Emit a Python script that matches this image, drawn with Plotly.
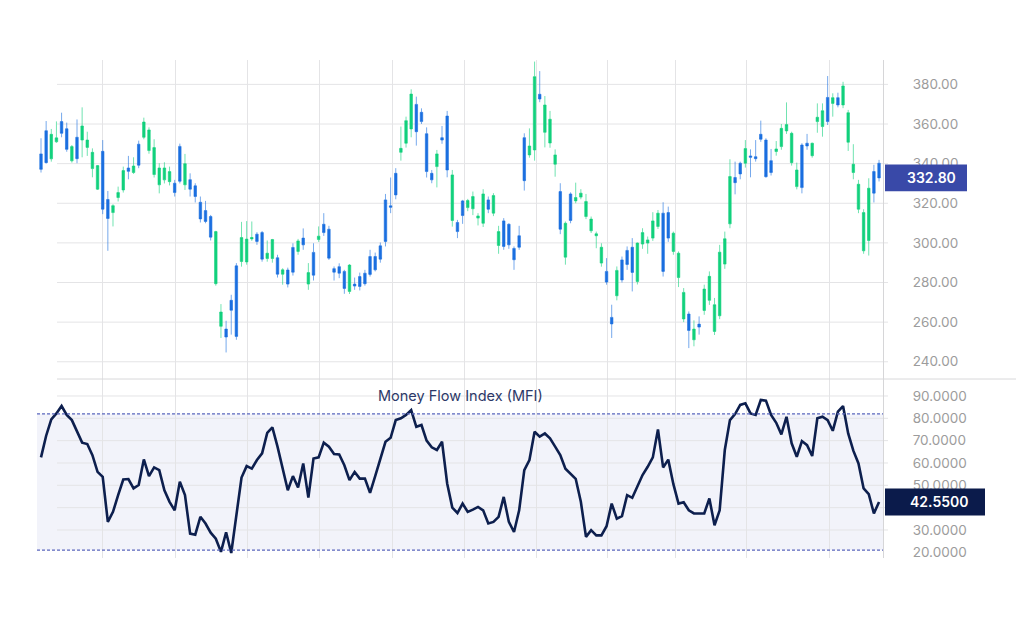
import plotly.graph_objects as go

# ---------------- data ----------------
bar_index = list(range(164))

open_ = [344.9, 356.6, 342.4, 351.0, 361.2, 357.6, 341.4, 353.3, 351.9, 348.2,
         337.5, 327.1, 346.2, 321.9, 315.3, 322.9, 326.7, 337.8, 335.5, 349.8,
         353.3, 346.6, 334.5, 329.3, 331.8, 330.9, 330.1, 348.7, 329.3, 331.9,
         328.8, 320.5, 316.3, 313.3, 279.4, 257.9, 256.5, 271.0, 288.4, 290.6,
         290.4, 302.0, 304.4, 305.2, 292.1, 292.1, 292.5, 284.2, 286.3, 297.7,
         295.7, 302.4, 279.2, 295.2, 301.7, 309.4, 306.9, 287.0, 288.0, 285.6,
         275.5, 279.2, 283.0, 284.7, 293.1, 293.1, 298.5, 321.7, 318.7, 335.1,
         345.7, 350.3, 357.5, 369.9, 365.9, 355.1, 335.1, 338.5, 353.1, 364.0,
         311.3, 310.3, 321.2, 317.8, 317.2, 312.5, 309.9, 321.7, 315.0, 298.7,
         311.1, 309.4, 297.2, 303.6, 353.1, 344.4, 346.9, 375.0, 355.8, 350.4,
         339.7, 325.9, 292.8, 324.7, 321.2, 323.1, 313.3, 306.1, 303.6, 289.8,
         285.6, 262.4, 273.3, 291.4, 296.2, 297.8, 280.5, 299.4, 299.9, 302.4,
         308.3, 315.0, 315.3, 295.7, 282.5, 261.6, 264.1, 251.1, 259.0, 265.9,
         271.0, 255.3, 263.2, 289.3, 309.6, 333.0, 340.2, 340.2, 343.9, 343.5,
         354.8, 351.9, 341.5, 346.1, 348.6, 356.5, 340.5, 328.4, 349.4, 350.3,
         344.0, 361.2, 358.7, 373.4, 370.4, 373.3, 369.6, 350.8, 335.5, 317.0,
         296.0, 301.2, 336.0, 340.2]

high = [352.8, 361.5, 357.5, 361.3, 365.7, 360.7, 349.4, 362.3, 368.4, 356.1,
        347.7, 339.3, 351.9, 326.2, 319.5, 328.4, 338.5, 343.9, 343.2, 351.6,
        363.2, 358.3, 352.3, 340.2, 340.7, 338.5, 331.8, 350.1, 344.9, 335.1,
        330.1, 323.4, 321.2, 314.1, 306.1, 269.1, 260.7, 273.8, 289.8, 310.6,
        311.0, 310.8, 305.4, 306.0, 301.2, 302.0, 294.0, 287.2, 287.5, 299.8,
        302.0, 307.3, 289.8, 299.8, 308.3, 315.0, 308.6, 288.1, 289.7, 286.4,
        289.3, 282.5, 285.0, 286.4, 296.5, 295.1, 300.2, 324.7, 333.0, 337.7,
        358.7, 363.7, 377.5, 373.8, 367.9, 358.3, 336.8, 346.9, 359.0, 366.6,
        336.8, 311.6, 321.7, 322.2, 325.9, 315.0, 327.1, 323.4, 325.1, 308.6,
        312.5, 309.9, 298.2, 308.6, 355.3, 357.8, 391.5, 386.7, 374.1, 366.6,
        347.2, 330.1, 310.8, 325.5, 330.4, 327.1, 324.7, 313.3, 305.7, 299.8,
        292.3, 268.8, 288.1, 293.1, 298.2, 302.4, 300.2, 307.4, 303.2, 315.5,
        316.6, 320.5, 318.3, 305.7, 295.7, 277.2, 265.4, 260.9, 262.9, 278.9,
        285.6, 272.2, 299.0, 305.7, 342.2, 341.0, 341.0, 351.9, 347.2, 351.9,
        361.7, 352.8, 347.4, 351.4, 360.0, 370.9, 356.1, 340.5, 350.3, 355.0,
        350.6, 370.4, 370.4, 384.2, 375.5, 375.8, 381.3, 367.1, 349.8, 331.8,
        317.0, 332.6, 339.4, 341.9]

low = [335.5, 340.0, 341.0, 350.5, 353.3, 346.0, 340.5, 340.2, 343.2, 343.9,
       333.1, 326.7, 314.5, 296.0, 308.3, 320.9, 325.4, 332.1, 334.8, 337.7,
       352.3, 345.0, 333.0, 325.0, 330.0, 329.0, 323.4, 330.0, 326.7, 323.4,
       320.4, 310.3, 309.9, 301.2, 278.4, 252.0, 244.7, 253.7, 251.1, 288.0,
       289.0, 301.0, 299.0, 290.5, 290.5, 290.0, 282.5, 278.9, 277.5, 283.5,
       294.0, 296.5, 276.3, 281.0, 300.5, 303.5, 291.4, 281.0, 282.2, 274.3,
       274.2, 276.3, 276.0, 278.4, 283.0, 285.6, 290.0, 298.2, 315.0, 322.0,
       341.5, 348.1, 353.3, 349.1, 360.0, 333.0, 330.1, 328.0, 350.0, 333.1,
       308.2, 302.4, 309.6, 316.0, 314.0, 308.8, 308.0, 315.0, 313.5, 294.5,
       296.5, 297.0, 286.4, 296.5, 326.4, 343.0, 341.5, 371.0, 348.2, 348.0,
       333.4, 304.4, 289.0, 309.9, 320.0, 322.0, 312.0, 305.0, 297.3, 288.0,
       278.9, 252.0, 271.0, 280.0, 286.4, 275.5, 279.0, 297.0, 294.5, 301.0,
       307.0, 283.0, 300.5, 294.0, 277.7, 260.0, 246.9, 247.8, 253.7, 263.7,
       268.7, 253.5, 261.5, 286.9, 307.4, 324.5, 332.1, 338.0, 333.1, 341.0,
       351.0, 332.9, 334.0, 344.0, 347.0, 355.0, 339.0, 327.0, 325.0, 347.0,
       343.0, 355.6, 353.6, 359.5, 363.7, 368.4, 368.0, 346.4, 332.1, 315.0,
       294.5, 293.6, 320.4, 331.0]

close = [337.1, 340.5, 354.8, 353.0, 355.3, 347.2, 348.6, 342.5, 359.0, 351.9,
         345.7, 339.0, 317.0, 312.3, 318.8, 325.4, 336.5, 336.1, 338.8, 339.2,
         361.0, 357.0, 348.1, 337.8, 337.8, 336.0, 325.4, 331.1, 340.0, 327.1,
         323.4, 312.1, 310.8, 302.9, 305.7, 265.1, 252.5, 266.0, 252.8, 302.7,
         301.9, 302.7, 300.7, 291.8, 294.8, 301.7, 284.2, 286.4, 279.2, 285.2,
         301.0, 299.0, 285.0, 283.7, 303.4, 305.2, 292.3, 285.2, 284.7, 277.0,
         288.8, 278.2, 278.0, 279.4, 284.1, 286.4, 291.8, 300.7, 318.0, 324.2,
         347.7, 361.7, 375.1, 356.1, 361.2, 336.0, 331.8, 344.9, 351.9, 336.8,
         334.3, 305.7, 313.8, 321.4, 323.4, 313.6, 324.7, 317.0, 323.9, 305.7,
         298.2, 299.0, 291.5, 297.8, 331.4, 348.9, 383.9, 372.6, 369.6, 362.4,
         344.4, 306.9, 309.9, 311.3, 322.9, 325.1, 320.9, 312.0, 304.6, 297.8,
         280.2, 259.1, 286.1, 281.3, 289.1, 285.1, 299.9, 305.2, 301.5, 311.1,
         315.0, 285.6, 302.4, 304.9, 294.8, 275.0, 255.8, 256.5, 257.5, 276.7,
         283.1, 268.8, 295.3, 302.1, 333.5, 330.4, 334.8, 347.6, 343.2, 342.5,
         352.3, 333.4, 335.5, 347.4, 357.8, 359.7, 355.3, 336.8, 327.9, 348.9,
         350.3, 363.4, 366.7, 361.2, 373.3, 369.6, 379.2, 365.7, 339.7, 329.6,
         315.3, 327.6, 325.1, 332.8]

mfi = [62.5, 72.2, 79.5, 82.2, 85.5, 81.5, 79.2, 74.3, 69.1, 68.5,
       63.5, 56.0, 53.8, 33.6, 38.1, 45.6, 52.6, 52.8, 48.6, 50.1,
       61.6, 54.1, 58.0, 56.8, 47.8, 42.6, 38.8, 51.6, 45.6, 28.4,
       27.9, 35.9, 32.9, 28.8, 26.1, 20.2, 29.0, 19.7, 35.9, 53.5,
       58.6, 57.5, 61.3, 64.3, 73.5, 75.9, 67.3, 56.8, 47.8, 54.1,
       49.0, 59.8, 44.5, 62.0, 62.5, 69.1, 67.3, 64.0, 63.8, 59.0,
       52.3, 56.0, 53.0, 53.0, 46.6, 54.1, 61.3, 69.5, 71.3, 79.2,
       80.0, 81.5, 83.7, 76.2, 77.0, 70.0, 67.0, 65.8, 69.5, 50.8,
       40.0, 37.6, 41.8, 38.1, 39.1, 40.3, 38.8, 32.9, 33.6, 35.9,
       44.8, 33.6, 29.1, 38.8, 56.8, 61.3, 74.0, 71.8, 73.2, 71.0,
       67.3, 63.5, 57.4, 55.3, 52.9, 42.6, 26.9, 29.9, 27.6, 27.6,
       31.7, 41.8, 35.1, 36.2, 45.6, 44.4, 49.3, 54.6, 58.3, 62.5,
       75.0, 58.0, 61.5, 50.5, 41.8, 42.4, 38.8, 37.4, 37.4, 37.4,
       44.1, 32.1, 38.8, 65.8, 79.2, 81.9, 86.0, 86.7, 82.2, 81.5,
       88.2, 87.9, 81.5, 78.0, 72.8, 80.7, 68.8, 62.8, 69.8, 68.0,
       63.1, 80.0, 80.7, 79.2, 74.4, 83.0, 85.5, 73.2, 65.5, 59.8,
       48.6, 46.0, 37.4, 42.55]

price_ticks = [240, 260, 280, 300, 320, 340, 360, 380]
mfi_ticks = [20, 30, 40, 50, 60, 70, 80, 90]
x_grid = [11.9, 26.2, 40.1, 54.1, 68.3, 82.4, 96.4, 110.1, 123.5, 137.3, 153.4]
mfi_upper, mfi_lower = 82, 21
last_close_label = "332.80"
last_mfi_label = "42.5500"
mfi_title = "Money Flow Index (MFI)"

# ---------------- style ----------------
PAGE_OFFSET = 8          # default body margin of the html page
W, H = 1024 - PAGE_OFFSET, 643 - PAGE_OFFSET
ML, MT = 37 - PAGE_OFFSET, 60 - PAGE_OFFSET
PW, PH = 846, 498
MR, MB = W - ML - PW, H - MT - PH
SPLIT = 179 / PH

GREEN = "#12d17d"
GREEN_WICK = "rgba(18,209,125,0.6)"
BLUE = "#1b6fe0"
BLUE_WICK = "rgba(27,111,224,0.6)"
NAVY = "#0d1f4e"
GRID = "#e4e4e6"
TICK = "#9c9c9c"
FONT = "Inter"


def px_to_paper(px):
    """screen pixel x (in the 1024 window) -> paper coordinate"""
    return (px - PAGE_OFFSET - ML) / PW


fig = go.Figure()
fig.add_trace(go.Candlestick(
    x=bar_index, open=open_, high=high, low=low, close=close,
    xaxis="x", yaxis="y",
    increasing=dict(line=dict(color=GREEN_WICK, width=1), fillcolor=GREEN),
    decreasing=dict(line=dict(color=BLUE_WICK, width=1), fillcolor=BLUE),
    whiskerwidth=0, showlegend=False, hoverinfo="skip"))
fig.add_trace(go.Scatter(
    x=bar_index, y=mfi, mode="lines", xaxis="x2", yaxis="y2",
    line=dict(color=NAVY, width=2.6), showlegend=False, hoverinfo="skip"))

shapes = []
# MFI band
shapes.append(dict(type="rect", xref="paper", yref="y2", x0=0, x1=1,
                   y0=mfi_lower, y1=mfi_upper, fillcolor="rgba(226,229,243,0.45)",
                   line=dict(width=0), layer="below"))
# horizontal grid lines
for v in price_ticks:
    shapes.append(dict(type="line", xref="paper", yref="y", x0=px_to_paper(57),
                       x1=px_to_paper(888), y0=v, y1=v,
                       line=dict(color=GRID, width=1), layer="below"))
for v in mfi_ticks[1:]:
    shapes.append(dict(type="line", xref="paper", yref="y2", x0=px_to_paper(57),
                       x1=px_to_paper(888), y0=v, y1=v,
                       line=dict(color=GRID, width=1), layer="below"))
# separator
shapes.append(dict(type="line", xref="paper", yref="paper", x0=px_to_paper(57),
                   x1=px_to_paper(1030), y0=SPLIT, y1=SPLIT,
                   line=dict(color="#d8d8da", width=1)))
# dashed levels
for v in (mfi_upper, mfi_lower):
    shapes.append(dict(type="line", xref="paper", yref="y2", x0=0, x1=1,
                       y0=v, y1=v, line=dict(color="#5b67bd", width=1.2, dash="3px,2px")))
# value boxes
shapes.append(dict(type="rect", xref="paper", yref="y", x0=px_to_paper(885),
                   x1=px_to_paper(967), y0=close[-1] - 6.8, y1=close[-1] + 6.8,
                   fillcolor="#3949a8", line=dict(width=0)))
shapes.append(dict(type="rect", xref="paper", yref="y2", x0=px_to_paper(885),
                   x1=px_to_paper(985), y0=mfi[-1] - 6.05, y1=mfi[-1] + 6.05,
                   fillcolor="#0b1b4b", line=dict(width=0)))

annotations = [
    dict(text=mfi_title, xref="paper", yref="y2", x=px_to_paper(460), y=90,
         showarrow=False, xanchor="center", yanchor="middle",
         font=dict(family=FONT, size=14.5, color="#2c3868")),
    dict(text=last_close_label, xref="paper", yref="y", x=px_to_paper(958),
         y=close[-1], showarrow=False, xanchor="right", yanchor="middle",
         font=dict(family=FONT, size=14, color="white", weight=600)),
    dict(text=last_mfi_label, xref="paper", yref="y2", x=px_to_paper(970),
         y=mfi[-1], showarrow=False, xanchor="right", yanchor="middle",
         font=dict(family=FONT, size=14, color="white", weight=600)),
]

xcommon = dict(range=[-0.78, 163.77], tickmode="array", tickvals=x_grid,
               showticklabels=False, showgrid=True, gridcolor=GRID, gridwidth=1,
               zeroline=False, showline=False, ticks="")
ycommon = dict(side="right", showgrid=False, zeroline=False, showline=True,
               linecolor="#d6d6d8", linewidth=1, ticks="", ticklabelstandoff=26,
               tickfont=dict(family=FONT, size=13.5, color=TICK), tickmode="array",
               automargin=False)

fig.update_layout(
    width=W, height=H,
    margin=dict(l=ML, r=MR, t=MT, b=MB, pad=0, autoexpand=False),
    paper_bgcolor="white", plot_bgcolor="white",
    showlegend=False,
    xaxis=dict(domain=[0, 1], anchor="y", rangeslider=dict(visible=False), **xcommon),
    xaxis2=dict(domain=[0, 1], anchor="y2", matches="x", **xcommon),
    yaxis=dict(domain=[SPLIT, 1], anchor="x", range=[231.3, 392.3],
               tickvals=price_ticks, tickformat=".2f", **ycommon),
    yaxis2=dict(domain=[0, SPLIT], anchor="x2", range=[17.45, 97.6],
                tickvals=mfi_ticks, tickformat=".4f", **ycommon),
    shapes=shapes,
    annotations=annotations,
    font=dict(family=FONT),
)

fig.write_html("out.html")
